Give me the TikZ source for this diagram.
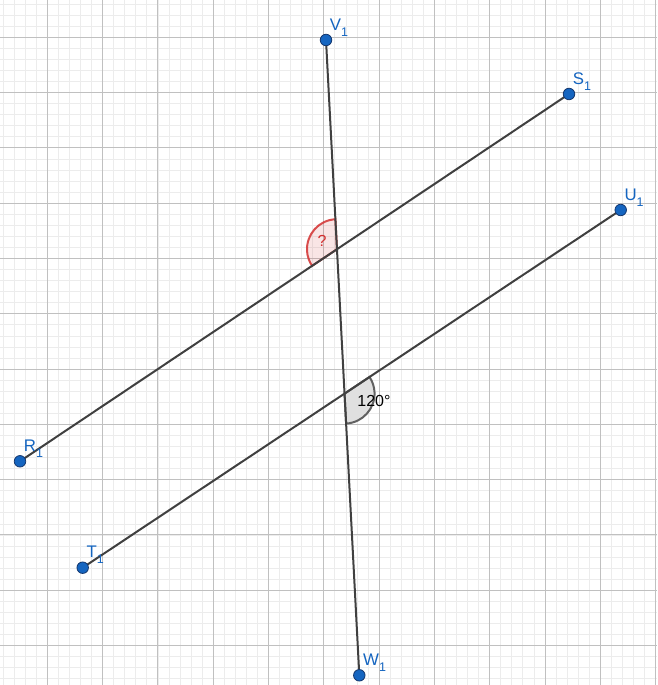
\documentclass[tikz,border=0pt]{standalone}
\usepackage{fontspec}
\setmainfont{Liberation Sans}
\usetikzlibrary{calc}
\definecolor{geoblue}{RGB}{21,101,192}
\definecolor{ptedge}{RGB}{20,55,110}
\definecolor{segcol}{RGB}{64,64,64}
\definecolor{gridmaj}{RGB}{192,192,192}
\definecolor{gridmin}{RGB}{236,236,236}
\definecolor{angred}{RGB}{211,47,47}
\definecolor{anggray}{RGB}{97,97,97}
\newcommand{\ptlab}[2]{#1\raisebox{-6pt}{\fontsize{12.5}{12.5}\selectfont #2}}
\begin{document}
\begin{tikzpicture}[x=1pt,y=1pt,
  minorgrid/.style={draw=gridmin,line width=0.8pt},
  majorgrid/.style={draw=gridmaj,line width=1pt},
  seg/.style={draw=segcol,line width=2pt},
  pt/.style={circle,fill=geoblue,draw=ptedge,line width=0.8pt,minimum size=11.5pt,inner sep=0pt},
  lbl/.style={text=geoblue,font=\fontsize{16.8}{16.8}\selectfont,anchor=base west,inner sep=0pt},
  redsector/.style={fill=angred,fill opacity=0.12,draw=angred,draw opacity=0.85,line width=2pt},
  graysector/.style={fill=black!12,draw=anggray,line width=2pt}]
\useasboundingbox (0,0) rectangle (657,685);
\fill[white] (0,0) rectangle (657,685);
% grid
\foreach \k in {-4,...,55}{
  \draw[minorgrid] ({47.3+\k*11.06},0) -- ({47.3+\k*11.06},685);}
\foreach \k in {-3,...,58}{
  \draw[minorgrid] (0,{647.7-\k*11.06}) -- (657,{647.7-\k*11.06});}
\foreach \k in {0,...,11}{
  \draw[majorgrid] ({47.3+\k*55.3},0) -- ({47.3+\k*55.3},685);
  \draw[majorgrid] (0,{647.7-\k*55.3}) -- (657,{647.7-\k*55.3});}
% points
\coordinate (R) at (20,223.7);
\coordinate (S) at (569,591);
\coordinate (T) at (82.7,117.3);
\coordinate (U) at (620.7,475);
\coordinate (V) at (326,645);
\coordinate (W) at (359.3,9.7);
\coordinate (I1) at (intersection of R--S and V--W);
\coordinate (I2) at (intersection of T--U and V--W);
% angle sectors
\draw[redsector] (I1) -- ++(93:30) arc[start angle=93,end angle=213.78,radius=30] -- cycle;
\draw[graysector] (I2) -- ++(-87:30) arc[start angle=-87,end angle=33.62,radius=30] -- cycle;
% segments
\draw[seg] (R) -- (S);
\draw[seg] (T) -- (U);
\draw[seg] (V) -- (W);
% angle labels
\node[text=angred,font=\fontsize{16}{16}\selectfont,inner sep=0pt] (q) at (322,444.5) {?};
\node[text=black,font=\fontsize{16}{16}\selectfont,inner sep=0pt] (a) at (374,284) {120°};
% point markers
\foreach \p in {R,S,T,U,V,W}{ \node[pt] (p\p) at (\p) {}; }
% point labels
\node[lbl] (lR) at ($(R)+(3.7,9.7)$) {\ptlab{R}{1}};
\node[lbl] (lS) at ($(S)+(3.7,9.7)$) {\ptlab{S}{1}};
\node[lbl] (lT) at ($(T)+(3.7,9.7)$) {\ptlab{T}{1}};
\node[lbl] (lU) at ($(U)+(3.7,9.7)$) {\ptlab{U}{1}};
\node[lbl] (lV) at ($(V)+(3.7,9.7)$) {\ptlab{V}{1}};
\node[lbl] (lW) at ($(W)+(3.7,9.7)$) {\ptlab{W}{1}};
\end{tikzpicture}
\end{document}
